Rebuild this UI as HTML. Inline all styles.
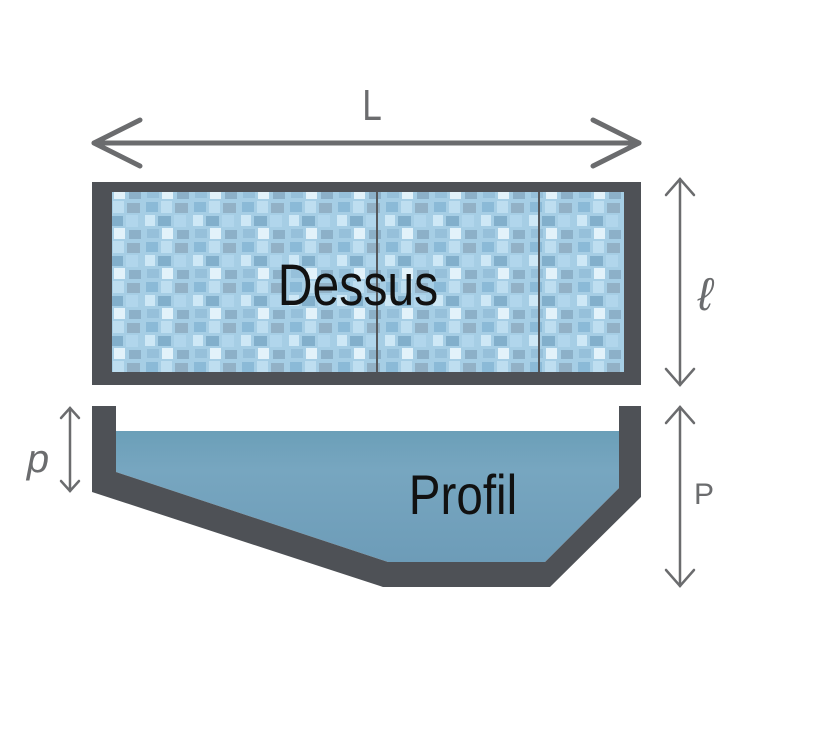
<!DOCTYPE html>
<html><head><meta charset="utf-8"><style>
html,body{margin:0;padding:0;background:#fff;}
svg{display:block}
text{font-family:"Liberation Sans",sans-serif;}
</style></head><body>
<svg width="823" height="734" viewBox="0 0 823 734">
<defs>
<pattern id="tiles" width="48" height="40" patternUnits="userSpaceOnUse">
<rect width="48" height="40" fill="#9cc9e3"/>
<rect x="2" y="2" width="12" height="10" fill="#7eb3d3"/>
<rect x="17" y="1" width="11" height="12" fill="#b7dbef"/>
<rect x="31" y="3" width="13" height="10" fill="#86a9c0"/>
<rect x="1" y="15" width="10" height="11" fill="#c9e6f5"/>
<rect x="14" y="16" width="13" height="10" fill="#74a6c6"/>
<rect x="30" y="15" width="12" height="12" fill="#a9d2ea"/>
<rect x="3" y="29" width="12" height="9" fill="#8bb9d6"/>
<rect x="18" y="28" width="11" height="11" fill="#dff1fa"/>
<rect x="33" y="30" width="12" height="9" fill="#7fa7c2"/>
</pattern>
<linearGradient id="water" x1="0" y1="0" x2="0" y2="1">
<stop offset="0" stop-color="#6b9fb8"/><stop offset="0.3" stop-color="#77a6c0"/><stop offset="1" stop-color="#6d9cb8"/>
</linearGradient>
</defs>
<g stroke="#6b6c6e" stroke-width="5" fill="none" stroke-linecap="round" stroke-linejoin="round">
<line x1="94" y1="143" x2="639" y2="143"/>
<polyline points="140,120 94,143 140,166"/>
<polyline points="593,120 639,143 593,166"/>
</g>
<text x="372" y="120" font-size="44" fill="#6b6c6e" text-anchor="middle" transform="translate(372 0) scale(0.8 1) translate(-372 0)">L</text>
<rect x="92" y="182" width="549" height="203" fill="#4e5156"/>
<rect x="112" y="192" width="512" height="180" fill="url(#tiles)"/>
<rect x="112" y="192" width="512" height="180" fill="#ffffff" opacity="0.1"/>
<line x1="377" y1="192" x2="377" y2="372" stroke="#55585c" stroke-width="2"/>
<line x1="539" y1="192" x2="539" y2="372" stroke="#55585c" stroke-width="2"/>
<text x="358" y="305" font-size="58" fill="#111" text-anchor="middle" transform="translate(358 0) scale(0.83 1) translate(-358 0)">Dessus</text>
<g stroke="#6b6c6e" stroke-width="2.5" fill="none" stroke-linecap="round">
<line x1="680" y1="179" x2="680" y2="385"/>
<polyline points="666,195 680,179 694,195"/>
<polyline points="666,369 680,385 694,369"/>
<line x1="680" y1="407" x2="680" y2="586"/>
<polyline points="666,423 680,407 694,423"/>
<polyline points="666,570 680,586 694,570"/>
<line x1="70" y1="408" x2="70" y2="491"/>
<polyline points="61,418 70,408 79,418"/>
<polyline points="61,481 70,491 79,481"/>
</g>
<text x="705" y="310" font-size="46" font-style="italic" fill="#6b6c6e" font-family="Liberation Serif,serif" text-anchor="middle">ℓ</text>
<text x="704" y="504" font-size="30" fill="#6b6c6e" text-anchor="middle">P</text>
<text x="38" y="472" font-size="40" font-style="italic" fill="#6b6c6e" font-family="Liberation Serif,serif" text-anchor="middle">p</text>
<polygon points="116,431 619,431 619,488 545,562 388,562 116,472" fill="url(#water)"/>
<polygon points="92,406 116,406 116,472 388,562 545,562 619,488 619,406 641,406 641,497 550,587 383,587 92,492" fill="#4e5156"/>
<text x="463" y="514" font-size="56" fill="#111" text-anchor="middle" transform="translate(463 0) scale(0.85 1) translate(-463 0)">Profil</text>
</svg>
</body></html>
